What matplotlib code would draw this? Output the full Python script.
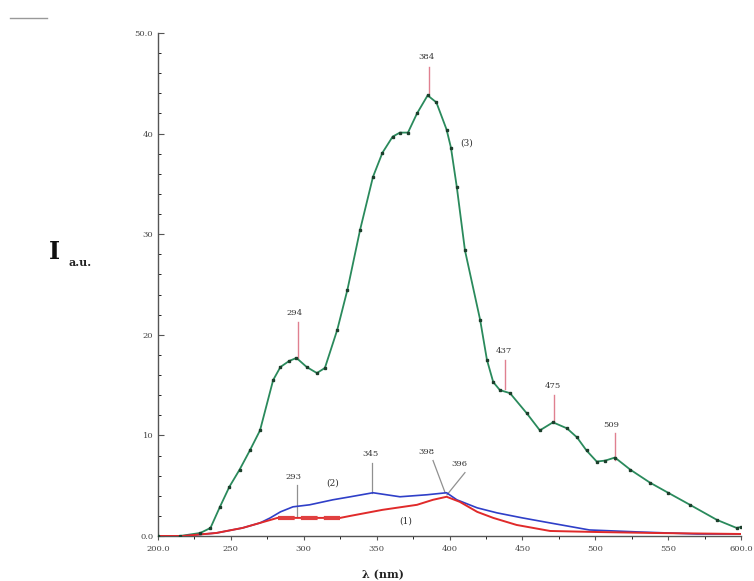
import matplotlib
matplotlib.use("Agg")
import matplotlib.pyplot as plt
from matplotlib.lines import Line2D

# ---------------- data ----------------
green_x = [200, 215, 229, 236, 242.5, 249, 256, 263, 270, 279, 284, 290, 295, 302, 309,
           314.5, 323, 330, 338.6, 347.5, 354, 361, 366, 371.5, 377.7, 385, 391, 398,
           401, 405, 410.6, 421, 425.7, 430, 434.6, 441.5, 453, 462, 471, 480.6, 487.5,
           494, 501, 507, 513.5, 524, 537.6, 550, 565, 583.5, 597, 600]
green_y = [0.0, 0.0, 0.3, 0.8, 2.9, 4.9, 6.6, 8.5, 10.5, 15.5, 16.8, 17.4, 17.7, 16.8, 16.2,
           16.7, 20.5, 24.5, 30.4, 35.7, 38.1, 39.7, 40.1, 40.1, 42.0, 43.8, 43.1, 40.4,
           38.6, 34.7, 28.4, 21.5, 17.5, 15.3, 14.5, 14.2, 12.2, 10.5, 11.3, 10.7, 9.8,
           8.5, 7.4, 7.5, 7.8, 6.6, 5.3, 4.3, 3.1, 1.6, 0.8, 0.9]

blue_x = [200, 217, 240, 258, 270, 277, 284, 292.6, 304, 320, 332, 347.5, 366, 384.6,
          398, 405, 419, 432.6, 450, 469, 496, 530, 570, 600]
blue_y = [0.0, 0.0, 0.3, 0.8, 1.3, 1.8, 2.4, 2.9, 3.1, 3.6, 3.9, 4.3, 3.9, 4.1,
          4.3, 3.6, 2.8, 2.3, 1.8, 1.3, 0.6, 0.4, 0.2, 0.2]

red_x = [200, 217, 240, 258, 270, 282, 300, 325, 332, 354, 377.7, 388.7, 398, 407,
         419, 430, 446, 469, 500, 540, 600]
red_y = [0.0, 0.0, 0.3, 0.8, 1.3, 1.8, 1.8, 1.8, 2.0, 2.6, 3.1, 3.6, 3.9, 3.4,
         2.4, 1.8, 1.1, 0.5, 0.4, 0.3, 0.2]

x_ticks = [200, 250, 300, 350, 400, 450, 500, 550, 600]
x_ticklabels = ["200.0", "250", "300", "350", "400", "450", "500", "550", "600.0"]
y_ticks = [0, 10, 20, 30, 40, 50]
y_ticklabels = ["0.0", "10", "20", "30", "40", "50.0"]

# peak annotations: (label, line x0, y0, line x1, y1, text x, text y)
green_peaks = [("384", 386, 44.0, 386, 46.6, 384, 47.2),
               ("294", 296, 17.7, 296, 21.3, 294, 21.8),
               ("437", 438, 14.6, 438, 17.5, 437, 18.0),
               ("475", 472, 11.4, 472, 14.0, 471, 14.5),
               ("509", 513.5, 7.6, 513.5, 10.2, 511, 10.6)]
low_peaks = [("293", 295.5, 1.9, 295.5, 5.1, 293, 5.5),
             ("345", 347, 4.3, 347, 7.3, 346, 7.8),
             ("398", 397, 4.3, 388.7, 7.5, 384, 8.0),
             ("396", 398.3, 4.1, 410.6, 6.3, 407, 6.8)]
curve_labels = [("(3)", 412, 39.1), ("(2)", 319.5, 5.3), ("(1)", 370, 1.5)]

# ---------------- figure ----------------
W, H = 754, 581
fig = plt.figure(figsize=(W / 100, H / 100), dpi=100)
ax = fig.add_axes([158 / W, (H - 536) / H, (741 - 158) / W, (536 - 33) / H])

ax.plot(green_x, green_y, color="#2a8a5c", lw=1.3, zorder=3)
ax.plot(green_x, green_y, ls="none", marker="s", ms=1.6, color="#1c3f2c", zorder=4)
ax.plot(blue_x, blue_y, color="#2f3fc8", lw=1.2, zorder=3)
ax.plot(red_x, red_y, color="#e02a2a", lw=1.4, zorder=3)
ax.plot(red_x[5:8], red_y[5:8], color="#e04040", lw=3.0, ls=(0, (4, 1.5)), zorder=3)

for lab, x0, y0, x1, y1, tx, ty in green_peaks:
    ax.plot([x0, x1], [y0, y1], color="#e08090", lw=1.0, zorder=2)
    ax.text(tx, ty, lab, fontsize=6, color="#333333", ha="center", va="bottom",
            family="DejaVu Serif")
for lab, x0, y0, x1, y1, tx, ty in low_peaks:
    ax.plot([x0, x1], [y0, y1], color="#909090", lw=0.9, zorder=2)
    ax.text(tx, ty, lab, fontsize=6, color="#333333", ha="center", va="bottom",
            family="DejaVu Serif")
for lab, tx, ty in curve_labels:
    ax.text(tx, ty, lab, fontsize=6.5, color="#333333", ha="center", va="center",
            family="DejaVu Serif")

ax.set_xlim(200, 600)
ax.set_ylim(0, 50)
ax.set_xticks(x_ticks)
ax.set_xticklabels(x_ticklabels)
ax.set_yticks(y_ticks)
ax.set_yticklabels(y_ticklabels)
ax.set_xticks(list(range(225, 600, 50)), minor=True)
ax.set_yticks([v for v in range(2, 50, 2) if v % 10], minor=True)
ax.tick_params(axis="both", labelsize=6, colors="#555555", labelcolor="#444444")
ax.tick_params(axis="y", direction="in", length=4, width=0.8)
ax.tick_params(axis="y", which="minor", direction="in", length=2.5, width=0.6)
ax.tick_params(axis="x", direction="out", length=3, width=0.8)
ax.tick_params(axis="x", which="minor", direction="out", length=2, width=0.6)
for lbl in ax.get_xticklabels() + ax.get_yticklabels():
    lbl.set_family("DejaVu Serif")
for s in ("top", "right"):
    ax.spines[s].set_visible(False)
for s in ("left", "bottom"):
    ax.spines[s].set_color("#555555")
    ax.spines[s].set_linewidth(1.0)

# axis titles
fig.text(54 / W, 1 - 252 / H, "I", fontsize=17, fontweight="bold", family="DejaVu Serif",
         ha="center", va="center", color="#111111")
fig.text(80 / W, 1 - 263 / H, "a.u.", fontsize=8, fontweight="bold", family="DejaVu Serif",
         ha="center", va="center", color="#222222")
fig.text(383 / W, 1 - 575 / H, "λ (nm)", fontsize=8, fontweight="bold", family="DejaVu Serif",
         ha="center", va="center", color="#222222")

fig.add_artist(Line2D([10 / W, 47 / W], [1 - 18 / H, 1 - 18 / H], color="#999999", lw=1.0))

fig.savefig("out.png", dpi=100)
